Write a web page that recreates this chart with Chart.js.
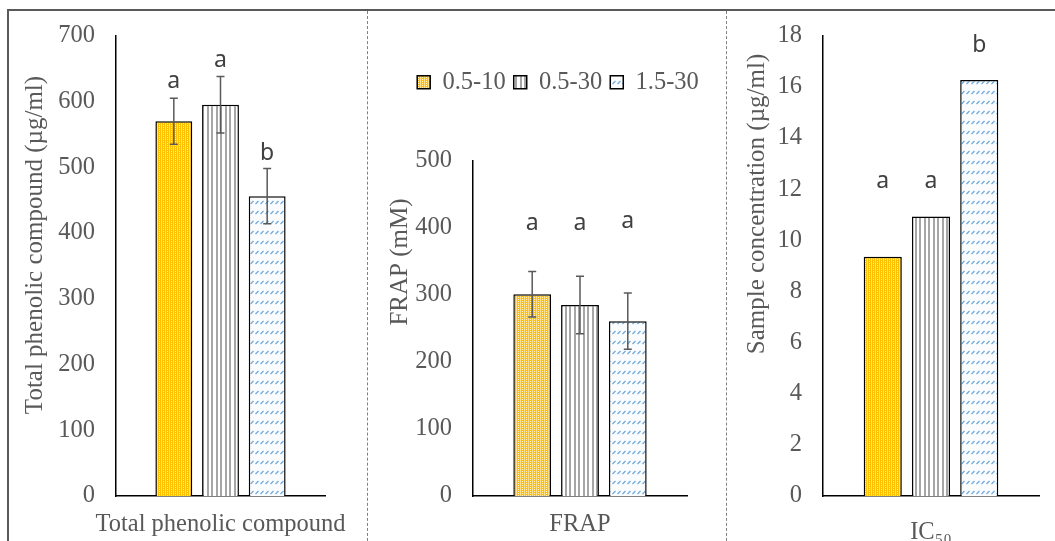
<!DOCTYPE html>
<html>
<head>
<meta charset="utf-8">
<script src="https://cdn.jsdelivr.net/npm/chart.js@4.4.1/dist/chart.umd.min.js"></script>
<style>
    body { margin: 0; background: #fff; }
    #fig { position: relative; width: 1055px; height: 541px; overflow: hidden; background: #fff; }
    #fig canvas { position: absolute; top: 0; }
    .frame { position: absolute; left: 7px; top: 9px; width: 1060px; height: 600px; border-top: 2px solid #595959; border-left: 2px solid #595959; }
    .sep { position: absolute; top: 11px; height: 540px; width: 0; border-left: 1px dashed #808080; }
</style>
</head>
<body>
<div id="fig">
    <div class="frame"></div>
    <canvas id="tpcChart" width="367" height="541" style="left:0px"></canvas>
    <canvas id="frapChart" width="382" height="541" style="left:367px"></canvas>
    <canvas id="icChart" width="329" height="541" style="left:726px"></canvas>
    <div class="sep" style="left:367px"></div>
    <div class="sep" style="left:726px"></div>
</div>
<script>
// groups (legend)
var groups = ['0.5-10', '0.5-30', '1.5-30'];

// Total phenolic compound
var tpcValues = [570, 595, 456];
var tpcErrors = [35, 43, 42];
var tpcLetters = ['a', 'a', 'b'];

// FRAP
var frapValues = [301, 285, 261];
var frapErrors = [34, 43, 42];
var frapLetters = ['a', 'a', 'a'];

// IC50
var ic50Values = [9.36, 10.93, 16.27];
var ic50Letters = ['a', 'a', 'b'];

Chart.defaults.font.family = "'Liberation Serif', 'Times New Roman', serif";
Chart.defaults.color = '#595959';
Chart.defaults.animation = false;

function makePattern(w, h, draw) {
    var c = document.createElement('canvas');
    c.width = w;
    c.height = h;
    var g = c.getContext('2d');
    draw(g);
    return g.createPattern(c, 'repeat');
}

var yellowFill = makePattern(4, 4, function (g) {
    g.fillStyle = '#FFC000';
    g.fillRect(0, 0, 4, 4);
    g.fillStyle = '#FFE08C';
    g.fillRect(1, 0, 1, 4);
    g.fillStyle = '#FFF3CF';
    g.fillRect(3, 1, 1, 1);
    g.fillRect(3, 3, 1, 1);
});
var stripeFill = makePattern(9, 1, function (g) {
    g.fillStyle = '#ffffff';
    g.fillRect(0, 0, 9, 1);
    g.fillStyle = '#A6A6A6';
    g.fillRect(0, 0, 2, 1);
    g.fillRect(4, 0, 2, 1);
});
var blueFill = makePattern(5, 10, function (g) {
    g.fillStyle = '#FAFCFE';
    g.fillRect(0, 0, 5, 10);
    g.strokeStyle = '#6FA8DC';
    g.lineWidth = 1.2;
    g.beginPath();
    g.moveTo(0.5, 4);
    g.lineTo(3.5, 1);
    g.stroke();
});
var fills = [yellowFill, stripeFill, blueFill];

// error bars drawn from the value and error arrays
var errorBars = {
    id: 'errorBars',
    afterDatasetsDraw: function (chart, args, opts) {
        if (!opts.errors) return;
        var ctx = chart.ctx;
        var y = chart.scales.y;
        ctx.save();
        ctx.strokeStyle = '#595959';
        ctx.lineWidth = 1.5;
        chart.data.datasets.forEach(function (ds, i) {
            var bar = chart.getDatasetMeta(i).data[0];
            var v = ds.data[0];
            var e = opts.errors[i];
            var top = y.getPixelForValue(v + e);
            var bot = y.getPixelForValue(v - e);
            ctx.beginPath();
            ctx.moveTo(bar.x, top);
            ctx.lineTo(bar.x, bot);
            ctx.moveTo(bar.x - 4, top);
            ctx.lineTo(bar.x + 4, top);
            ctx.moveTo(bar.x - 4, bot);
            ctx.lineTo(bar.x + 4, bot);
            ctx.stroke();
        });
        ctx.restore();
    }
};

// significance letters
var letters = {
    id: 'letters',
    afterDatasetsDraw: function (chart, args, opts) {
        if (!opts.text) return;
        var ctx = chart.ctx;
        var y = chart.scales.y;
        ctx.save();
        ctx.fillStyle = '#404040';
        ctx.font = "23px 'Noto Sans', 'DejaVu Sans', sans-serif";
        ctx.textAlign = 'center';
        ctx.textBaseline = 'alphabetic';
        opts.text.forEach(function (t, i) {
            var bar = chart.getDatasetMeta(i).data[0];
            ctx.fillText(t, bar.x, y.getPixelForValue(opts.levels[i]));
        });
        ctx.restore();
    }
};

// y axis title, placed like the original
var yTitle = {
    id: 'yTitle',
    afterDraw: function (chart, args, opts) {
        if (!opts.text) return;
        var ctx = chart.ctx;
        ctx.save();
        ctx.translate(opts.x, opts.y);
        ctx.rotate(-Math.PI / 2);
        ctx.fillStyle = '#595959';
        ctx.font = "25px 'Liberation Serif', serif";
        ctx.textAlign = 'center';
        ctx.textBaseline = 'middle';
        ctx.fillText(opts.text, 0, 0);
        ctx.restore();
    }
};

// legend gets extra room below it and is moved over the plot
var legendSpace = {
    id: 'legendSpace',
    beforeInit: function (chart, args, opts) {
        var fit = chart.legend.fit;
        chart.legend.fit = function () {
            fit.call(this);
            this.height = opts.height;
        };
    },
    afterLayout: function (chart, args, opts) {
        var lg = chart.legend;
        var shift = opts.center - (lg.left + lg.right) / 2;
        lg.left += shift;
        lg.right += shift;
    }
};

function makeChart(id, p) {
    var datasets = groups.map(function (g, i) {
        return {
            label: g,
            data: [p.values[i]],
            backgroundColor: fills[i],
            borderColor: '#000000',
            borderWidth: 1.5,
            categoryPercentage: 0.67,
            barPercentage: 0.79
        };
    });
    return new Chart(document.getElementById(id), {
        type: 'bar',
        data: { labels: [p.category], datasets: datasets },
        options: {
            responsive: false,
            devicePixelRatio: 1,
            layout: { padding: p.padding },
            scales: {
                x: {
                    grid: { display: false, drawTicks: false },
                    border: { display: true, color: '#000000', width: 1.5 },
                    ticks: { font: { size: 24.5 }, padding: p.xPad, maxRotation: 0, minRotation: 0 },
                    afterFit: function (s) { s.height = 45; s.paddingLeft = 0; s.paddingRight = 0; }
                },
                y: {
                    min: 0,
                    max: p.max,
                    grid: { display: false, drawTicks: false },
                    border: { display: true, color: '#000000', width: 1.5 },
                    ticks: { stepSize: p.step, font: { size: 24.5 }, padding: 21 },
                    afterFit: function (s) { s.width = p.yWidth; }
                }
            },
            plugins: {
                legend: p.legend || { display: false },
                tooltip: { enabled: false },
                errorBars: { errors: p.errors },
                letters: { text: p.letters, levels: p.levels },
                yTitle: p.title,
                legendSpace: p.legendSpace || {}
            }
        },
        plugins: [errorBars, letters, yTitle].concat(p.legend ? [legendSpace] : [])
    });
}

makeChart('tpcChart', {
    category: 'Total phenolic compound',
    values: tpcValues,
    errors: tpcErrors,
    letters: tpcLetters,
    levels: [620, 652, 511],
    max: 700,
    step: 100,
    yWidth: 116,
    xPad: 14,
    padding: { left: 0, top: 32, right: 42, bottom: 0 },
    title: { text: 'Total phenolic compound (\u00b5g/ml)', x: 35, y: 245 }
});

makeChart('frapChart', {
    category: 'FRAP',
    values: frapValues,
    errors: frapErrors,
    letters: frapLetters,
    levels: [397, 397, 400],
    max: 500,
    step: 100,
    yWidth: 106,
    xPad: 14,
    padding: { left: 0, top: 62, right: 62, bottom: 0 },
    title: { text: 'FRAP (mM)', x: 33, y: 262 },
    legend: {
        display: true,
        position: 'top',
        labels: { boxWidth: 13, boxHeight: 13, padding: 8, color: '#595959', font: { size: 24.5 } }
    },
    legendSpace: { height: 99, center: 191 }
});

makeChart('icChart', {
    category: 'IC\u2085\u2080',
    values: ic50Values,
    errors: null,
    letters: ic50Letters,
    levels: [12.05, 12.05, 17.36],
    max: 18,
    step: 2,
    yWidth: 97,
    xPad: 22,
    padding: { left: 0, top: 32, right: 16, bottom: 0 },
    title: { text: 'Sample concentration (\u00b5g/ml)', x: 31, y: 204 }
});
</script>
</body>
</html>
